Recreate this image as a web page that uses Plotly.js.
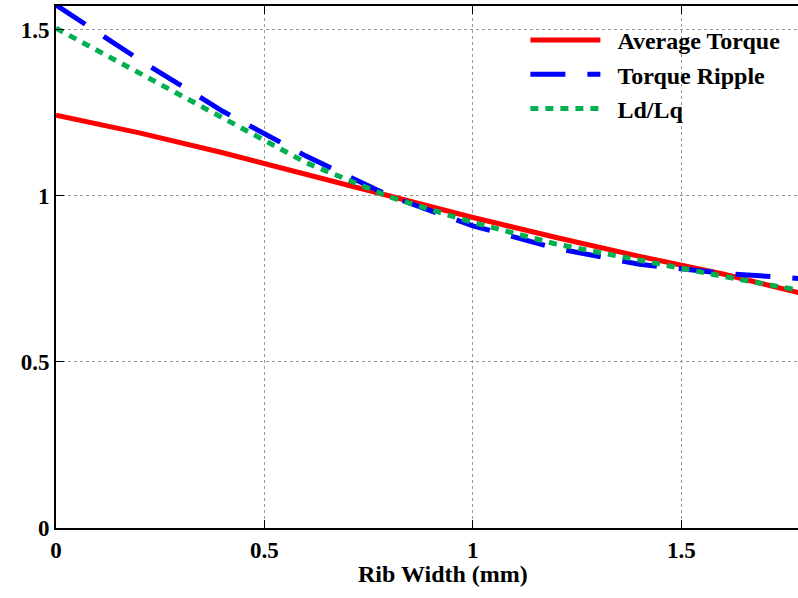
<!DOCTYPE html>
<html>
<head>
<meta charset="utf-8">
<script src="https://cdn.plot.ly/plotly-3.0.1.min.js"></script>
<style>html,body{margin:0;padding:0;background:#fff;}#chart{width:798px;height:598px;}</style>
</head>
<body>
<div id="chart"></div>
<script>
const ribWidth = [0, 0.2, 0.4, 0.6, 0.8, 1.0, 1.2, 1.4, 1.6, 1.8];
const averageTorque = [1.243, 1.19, 1.13, 1.065, 1.0, 0.935, 0.875, 0.818, 0.765, 0.703];
const torqueRipple = [1.575, 1.41, 1.255, 1.12, 1.0, 0.91, 0.842, 0.794, 0.767, 0.75];
const ldLq = [1.505, 1.37, 1.235, 1.10, 0.997, 0.92, 0.855, 0.805, 0.758, 0.712];
const seriesNames = ['Average Torque', 'Torque Ripple', 'Ld/Lq'];
const xTicks = [0, 0.5, 1, 1.5];
const xTickText = ['0', '0.5', '1', '1.5'];
const yTicks = [0, 0.5, 1, 1.5];
const yTickText = ['0', '0.5', '1', '1.5'];

const fam = 'Liberation Serif, Times New Roman, DejaVu Serif, serif';
const boldFont = {family: fam, size: 24, color: '#000', weight: 'bold'};
const tickFont = {family: fam, size: 23, color: '#000', weight: 'bold'};

const traces = [
  {x: ribWidth, y: averageTorque, name: '\u00a0\u00a0' + seriesNames[0], mode: 'lines',
   line: {color: '#ff0000', width: 5}},
  {x: ribWidth, y: torqueRipple, name: '\u00a0\u00a0' + seriesNames[1], mode: 'lines',
   line: {color: '#0000ff', width: 5, dash: '35px,22px'}},
  {x: ribWidth, y: ldLq, name: '\u00a0\u00a0' + seriesNames[2], mode: 'lines',
   line: {color: '#00b050', width: 5, dash: '8px,7px'}}
];

const layout = {
  width: 798, height: 598,
  margin: {l: 56, r: 0, t: 6, b: 70},
  paper_bgcolor: '#fff', plot_bgcolor: '#fff',
  font: boldFont,
  showlegend: true,
  legend: {x: 0.6326, y: 0.977, xanchor: 'left', yanchor: 'top', bgcolor: 'rgba(0,0,0,0)',
           font: boldFont, itemwidth: 70},
  xaxis: {range: [0, 1.78], tickvals: xTicks, ticktext: xTickText,
          ticks: 'inside', ticklen: 8, tickwidth: 1, tickcolor: '#000',
          showline: true, linecolor: '#000', linewidth: 2, mirror: 'ticks',
          showgrid: true, gridcolor: '#999', griddash: 'dot', gridwidth: 1,
          zeroline: false, tickfont: tickFont},
  yaxis: {range: [0, 1.572], tickvals: yTicks, ticktext: yTickText,
          ticks: 'inside', ticklen: 8, tickwidth: 1, tickcolor: '#000',
          showline: true, linecolor: '#000', linewidth: 2, mirror: false,
          showgrid: true, gridcolor: '#999', griddash: 'dot', gridwidth: 1,
          zeroline: false, tickfont: tickFont},
  annotations: [{text: 'Rib Width (mm)', xref: 'paper', yref: 'paper', x: 0.521, y: 0,
                 yshift: -46, xanchor: 'center', yanchor: 'middle', showarrow: false,
                 font: boldFont}]
};

Plotly.newPlot('chart', traces, layout, {displayModeBar: false, staticPlot: true});
</script>
</body>
</html>
